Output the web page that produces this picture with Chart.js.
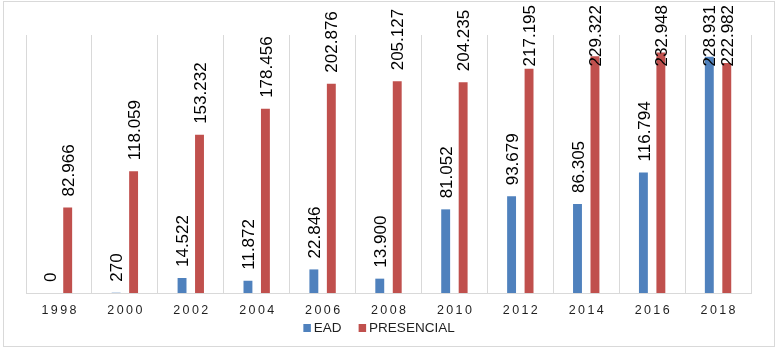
<!DOCTYPE html>
<html>
<head>
<meta charset="utf-8">
<script src="https://cdn.jsdelivr.net/npm/chart.js@4/dist/chart.umd.min.js"></script>
<style>
  html, body { margin: 0; padding: 0; background: #ffffff; }
  #wrap { width: 778px; height: 350px; position: relative; }
</style>
</head>
<body>
<div id="wrap"><canvas id="c" width="778" height="350"></canvas></div>
<script>
const categories = ['1998', '2000', '2002', '2004', '2006', '2008', '2010', '2012', '2014', '2016', '2018'];
const seriesNames = ['EAD', 'PRESENCIAL'];
const eadValues = [0, 270, 14522, 11872, 22846, 13900, 81052, 93679, 86305, 116794, 228931];
const presencialValues = [82966, 118059, 153232, 178456, 202876, 205127, 204235, 217195, 229322, 232948, 222982];
const seriesColors = ['#4f81bd', '#c0504d'];

function fmt(v) {
  return String(Math.round(v)).replace(/\B(?=(\d{3})+(?!\d))/g, '.');
}

const FONT = 'Arial, "Liberation Sans", sans-serif';

const customDraw = {
  id: 'customDraw',
  afterDraw(chart) {
    const ctx = chart.ctx;
    const xs = chart.scales.x;
    const area = chart.chartArea;
    ctx.save();
    // outer border
    ctx.strokeStyle = '#d9d9d9';
    ctx.lineWidth = 1;
    ctx.strokeRect(3.5, 1.5, 771, 345);

    // data labels (rotated)
    const lf = 17;
    ctx.font = lf + 'px ' + FONT;
    ctx.fillStyle = '#000000';
    chart.data.datasets.forEach((ds, di) => {
      const meta = chart.getDatasetMeta(di);
      meta.data.forEach((bar, i) => {
        const txt = fmt(ds.data[i]);
        const w = ctx.measureText(txt).width;
        let y = bar.y - 11;
        if (y - w < 5) y = 5 + w;
        ctx.save();
        ctx.translate(bar.x + lf * 0.36, y);
        ctx.rotate(-Math.PI / 2);
        ctx.textAlign = 'left';
        ctx.textBaseline = 'alphabetic';
        ctx.fillText(txt, 0, 0);
        ctx.restore();
      });
    });

    // x tick labels with letter spacing
    ctx.font = '12.5px ' + FONT;
    ctx.fillStyle = '#1f1f1f';
    ctx.textAlign = 'center';
    ctx.textBaseline = 'middle';
    const ls = 2.4;
    if ('letterSpacing' in ctx) ctx.letterSpacing = ls + 'px';
    categories.forEach((c, i) => {
      const x = xs.getPixelForValue(i);
      ctx.fillText(c, x + ls / 2, area.bottom + 18);
    });
    if ('letterSpacing' in ctx) ctx.letterSpacing = '0px';

    // legend
    const lgf = 13.5;
    ctx.font = lgf + 'px ' + FONT;
    ctx.textAlign = 'left';
    ctx.textBaseline = 'middle';
    const box = 7.5, gapBT = 3, gapItems = 17;
    const items = chart.data.datasets.map(d => ({ label: d.label, color: d.backgroundColor, w: ctx.measureText(d.label).width }));
    let total = 0;
    items.forEach((it, k) => { total += box + gapBT + it.w + (k < items.length - 1 ? gapItems : 0); });
    let x = 379 - total / 2;
    const ly = area.bottom + 35;
    items.forEach(it => {
      ctx.fillStyle = it.color;
      ctx.fillRect(x, ly - 4, box, 8);
      x += box + gapBT;
      ctx.fillStyle = '#1f1f1f';
      ctx.fillText(it.label, x, ly + 0.5);
      x += it.w + gapItems;
    });
    ctx.restore();
  }
};

new Chart(document.getElementById('c'), {
  type: 'bar',
  data: {
    labels: categories,
    datasets: [
      { label: seriesNames[0], data: eadValues, backgroundColor: seriesColors[0], categoryPercentage: 0.53, barPercentage: 0.51 },
      { label: seriesNames[1], data: presencialValues, backgroundColor: seriesColors[1], categoryPercentage: 0.53, barPercentage: 0.51 }
    ]
  },
  options: {
    responsive: false,
    animation: false,
    devicePixelRatio: 1,
    layout: { padding: { left: 26, right: 27, top: 35, bottom: 57 } },
    plugins: {
      legend: { display: false },
      tooltip: { enabled: false }
    },
    scales: {
      x: {
        offset: true,
        grid: { display: true, offset: true, color: '#d9d9d9', lineWidth: 1, drawTicks: false },
        border: { display: true, color: '#d9d9d9' },
        ticks: { display: false },
        afterFit(scale) { scale.height = 0; }
      },
      y: {
        display: false,
        min: 0,
        max: 250000
      }
    }
  },
  plugins: [customDraw]
});
</script>
</body>
</html>
